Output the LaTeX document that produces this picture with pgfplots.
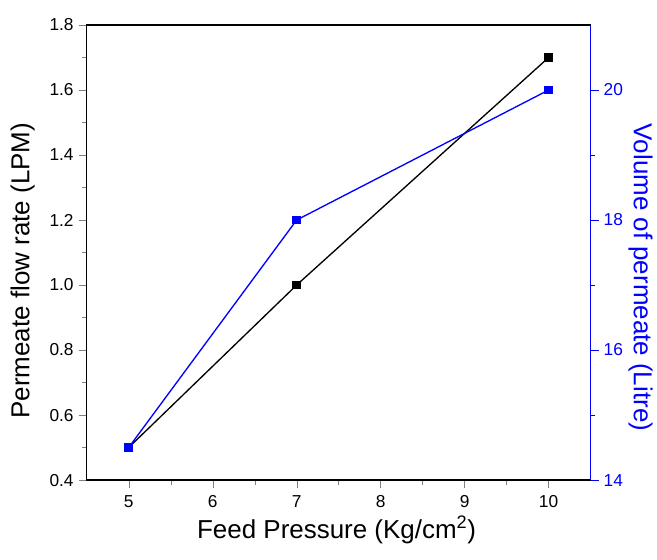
\documentclass[border=0pt]{standalone}
\usepackage{pgfplots}
\pgfplotsset{compat=1.18}
\usepackage{fontspec}
\setmainfont{Liberation Sans}
\begin{document}
\begin{tikzpicture}
\pgfplotsset{
  every axis/.append style={
    scale only axis,
    width=378.75pt,
    height=342pt,
    tick align=outside,
    /pgf/number format/assume math mode=true,
    tick label style={font=\fontsize{13}{15}\selectfont},
    label style={font=\fontsize{19.5}{22}\selectfont},
    major tick length=6pt,
    minor tick length=3.5pt,
    line width=1pt,
  },
}
\begin{axis}[
    xmin=4.5, xmax=10.5,
    ymin=0.4, ymax=1.8,
    xtick={5,6,...,10},
    ytick={0.4,0.6,...,1.8},
    minor x tick num=1,
    minor y tick num=1,
    xtick pos=bottom,
    ytick pos=left,
    xticklabel style={yshift=-1.5pt},
    /pgf/number format/.cd, fixed, fixed zerofill, precision=1,
    /pgfplots/.cd,
    xticklabel={\pgfmathprintnumber[fixed,precision=0]{\tick}},
    xlabel={Feed Pressure (Kg/cm\textsuperscript{2})},
    ylabel={Permeate flow rate (LPM)},
    xlabel style={at={(rel axis cs:0.496,-0.11)}, anchor=center},
    ylabel style={at={(rel axis cs:-0.127,0.46)}, anchor=center},
]
\addplot[black, line width=1pt, mark=square*, mark size=2.8pt]
  coordinates {
(5 , 0.5)
(7 , 1.0)
(10 , 1.7)
  };
\coordinate (bl) at (rel axis cs:-0.172,-0.175);
\coordinate (tr) at (rel axis cs:1.129,1.055);
\end{axis}
\begin{axis}[
    xmin=4.5, xmax=10.5,
    ymin=14, ymax=21,
    axis x line=none,
    axis y line*=right,
    ytick={14,16,18,20},
    minor y tick num=1,
    y axis line style={blue},
    ytick style={blue},
    yticklabel style={blue},
    ylabel style={blue, at={(rel axis cs:1.099,0.445)}, anchor=center, rotate=180},
    ylabel={Volume of permeate (Litre)},
]
\addplot[blue, line width=1pt, mark=square*, mark size=2.8pt]
  coordinates {
(5 , 14.5)
(7 , 18.0)
(10 , 20.0)
  };
\end{axis}
\path[use as bounding box] (bl) rectangle (tr);
\end{tikzpicture}
\end{document}
